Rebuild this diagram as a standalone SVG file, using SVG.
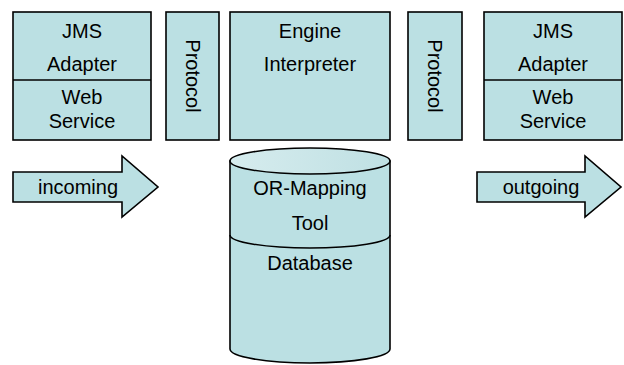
<svg xmlns="http://www.w3.org/2000/svg" width="624" height="365" viewBox="0 0 624 365">
<defs>
<linearGradient id="topg" x1="0" y1="0" x2="1" y2="0">
<stop offset="0" stop-color="#d6ecee"/>
<stop offset="1" stop-color="#bfe0e3"/>
</linearGradient>
</defs>
<style>
.b{fill:#bbe0e3;stroke:#000;stroke-width:1.6}
.l{fill:none;stroke:#000;stroke-width:1.6}
text{font-family:"Liberation Sans",Arial,sans-serif;font-size:20px;fill:#000;text-anchor:middle}
</style>
<rect width="624" height="365" fill="#fff"/>
<g id="jms-left">
<rect class="b" x="13" y="12" width="138" height="128"/>
<line class="l" x1="13" y1="80" x2="151" y2="80"/>
<text x="82" y="38">JMS</text>
<text x="82" y="71">Adapter</text>
<text x="82" y="104">Web</text>
<text x="82" y="128">Service</text>
</g>
<g id="protocol-left">
<rect class="b" x="166" y="12" width="53" height="128"/>
<text transform="translate(186,76) rotate(90)">Protocol</text>
</g>
<g id="engine">
<rect class="b" x="230" y="12" width="160" height="128"/>
<text x="310" y="38">Engine</text>
<text x="310" y="71">Interpreter</text>
</g>
<g id="protocol-right">
<rect class="b" x="408" y="12" width="54" height="128"/>
<text transform="translate(428,76) rotate(90)">Protocol</text>
</g>
<g id="jms-right">
<rect class="b" x="484" y="12" width="138" height="128"/>
<line class="l" x1="484" y1="80" x2="622" y2="80"/>
<text x="553" y="38">JMS</text>
<text x="553" y="71">Adapter</text>
<text x="553" y="104">Web</text>
<text x="553" y="128">Service</text>
</g>
<g id="incoming">
<polygon class="b" points="13,172 122,172 122,156 158,187 122,217 122,202 13,202"/>
<text x="78" y="194">incoming</text>
</g>
<g id="outgoing">
<polygon class="b" points="477,172 585,172 585,156 621,187 585,217 585,202 477,202"/>
<text x="541" y="194">outgoing</text>
</g>
<g id="database">
<path class="b" d="M230,161 L230,349 A80,14 0 0 0 390,349 L390,161 Z"/>
<ellipse cx="310" cy="161" rx="80" ry="13" fill="url(#topg)" stroke="#000" stroke-width="1.6"/>
<path class="l" d="M230,235 A80,13 0 0 0 390,235"/>
<text x="310" y="195">OR-Mapping</text>
<text x="310" y="230">Tool</text>
<text x="310" y="270">Database</text>
</g>
</svg>
